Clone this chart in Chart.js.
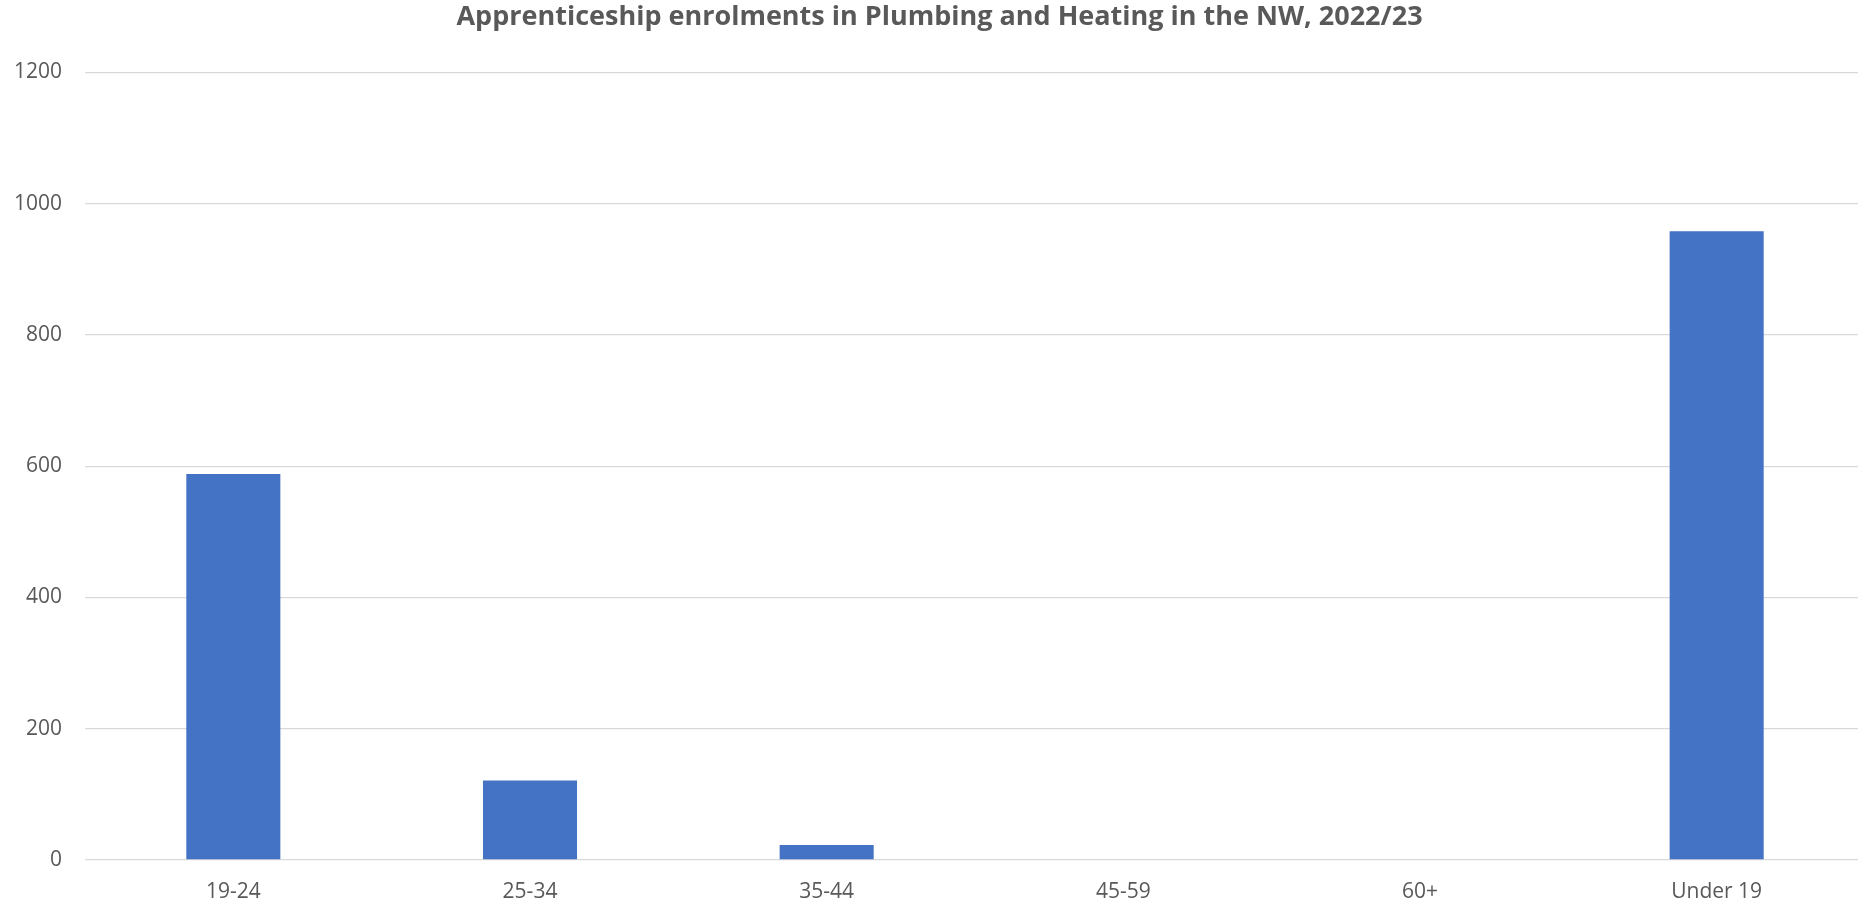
<!DOCTYPE html>
<html>
<head>
<meta charset="utf-8">
<script src="https://cdn.jsdelivr.net/npm/chart.js@4"></script>
<style>
    html, body { margin: 0; padding: 0; background: #ffffff; overflow: hidden; }
    .chart-box { width: 1866px; height: 904px; position: relative; }
</style>
</head>
<body>
<div class="chart-box">
    <canvas id="graph"></canvas>
</div>
<script>
const titleText = 'Apprenticeship enrolments in Plumbing and Heating in the NW, 2022/23'
const ageGroups = ['19-24', '25-34', '35-44', '45-59', '60+', 'Under 19']
const enrolments = [588, 121, 23, 0, 0, 958]
const yTicks = [0, 200, 400, 600, 800, 1000, 1200]

const textGrey = '#595959'

let graph = document.getElementById('graph').getContext('2d')

new Chart(graph, {
    type: 'bar',
    data: {
        labels: ageGroups,
        datasets: [
            {
                label: 'Enrolments',
                data: enrolments,
                backgroundColor: '#4472C4',
                borderWidth: 0,
                barPercentage: 0.317,
                categoryPercentage: 1
            }
        ]
    },
    options: {
        responsive: true,
        maintainAspectRatio: false,
        animation: false,
        layout: {
            padding: { top: 0, left: 14, right: 1, bottom: 0 }
        },
        plugins: {
            legend: { display: false },
            tooltip: { enabled: false },
            title: {
                display: true,
                text: titleText,
                color: textGrey,
                font: { family: 'Open Sans', size: 27, weight: 'bold' },
                padding: { top: 1, bottom: 39 }
            }
        },
        scales: {
            x: {
                grid: { display: false, drawTicks: false },
                border: { display: false },
                ticks: {
                    color: textGrey,
                    font: { family: 'Open Sans', size: 21 },
                    padding: 19,
                    maxRotation: 0
                },
                afterFit: function (scale) { scale.height = 44 }
            },
            y: {
                min: yTicks[0],
                max: yTicks[yTicks.length - 1],
                afterBuildTicks: function (scale) {
                    scale.ticks = yTicks.map(v => ({ value: v }))
                },
                grid: { color: '#d9d9d9', lineWidth: 1.3, drawTicks: false },
                border: { display: false },
                ticks: {
                    color: textGrey,
                    font: { family: 'Open Sans', size: 21 },
                    padding: 23,
                    callback: function (value) { return String(value) }
                },
                afterFit: function (scale) { scale.width = 71 }
            }
        }
    }
})
</script>
</body>
</html>
